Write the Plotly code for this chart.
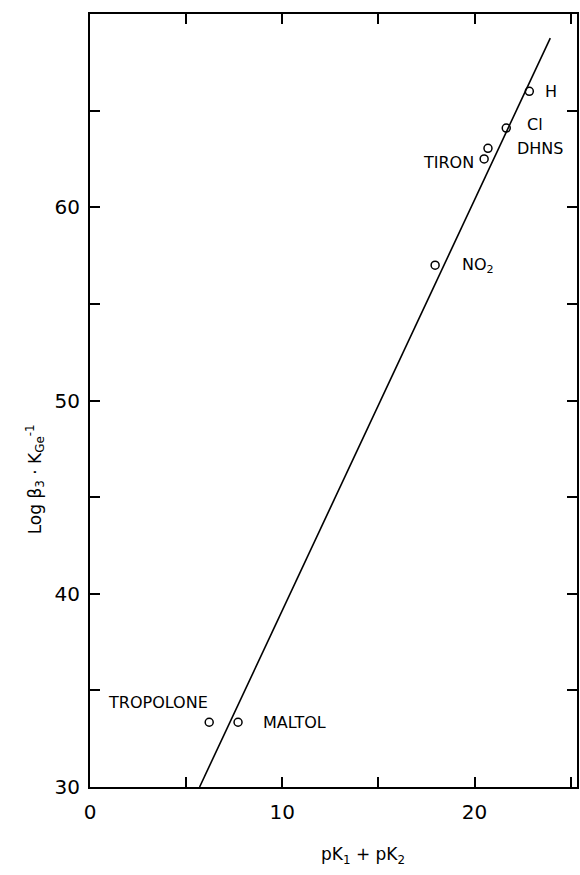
import plotly.graph_objects as go

# data
names = ["H", "Cl", "DHNS", "TIRON", "NO<sub>2</sub>", "TROPOLONE", "MALTOL"]
pk_sum = [22.85, 21.65, 20.7, 20.5, 17.95, 6.2, 7.7]
log_b = [66.0, 64.1, 63.05, 62.5, 57.0, 33.35, 33.35]
fit_x = [5.7, 23.94]
fit_y = [30.0, 68.75]

x_ticks = [0, 10, 20]
x_labels = ["0", "10", "20"]
y_ticks = [30, 40, 50, 60]
y_labels = ["30", "40", "50", "60"]
minor_step = 5

# label placement (pixel offsets from each point)
offs = {
    "H": (22, 0, "center"),
    "Cl": (29, 4, "center"),
    "DHNS": (52, 0, "center"),
    "TIRON": (-36, -4, "center"),
    "NO<sub>2</sub>": (25, 0, "left"),
    "TROPOLONE": (-51, 20, "center"),
    "MALTOL": (23, 0, "left"),
}

FONT = "DejaVu Sans"

fig = go.Figure()
fig.add_trace(go.Scatter(x=fit_x, y=fit_y, mode="lines",
                         line=dict(color="black", width=1.6), showlegend=False))
fig.add_trace(go.Scatter(x=pk_sum, y=log_b, mode="markers",
                         marker=dict(symbol="circle-open", size=8, color="black",
                                     line=dict(width=1.5, color="black")),
                         showlegend=False))

for n, xv, yv in zip(names, pk_sum, log_b):
    dx, dy, anc = offs[n]
    fig.add_annotation(x=xv, y=yv, xref="x", yref="y", text=n, showarrow=False,
                       xshift=dx, yshift=dy, xanchor=anc, yanchor="middle",
                       font=dict(family=FONT, size=16, color="black"))

fig.add_annotation(x=0.56, y=-0.088, xref="paper", yref="paper",
                   text="pK<sub>1</sub> + pK<sub>2</sub>", showarrow=False,
                   xanchor="center", yanchor="middle",
                   font=dict(family=FONT, size=17, color="black"))
fig.add_annotation(x=-0.113, y=0.398, xref="paper", yref="paper",
                   text="Log β<sub>3</sub> · K<sub>Ge</sub><sup>-1</sup>", showarrow=False,
                   textangle=-90, xanchor="center", yanchor="middle",
                   font=dict(family=FONT, size=17, color="black"))

axis_common = dict(showgrid=False, zeroline=False, showline=True, linecolor="black",
                   linewidth=2, ticks="inside", ticklen=10, tickwidth=1.5,
                   tickcolor="black", mirror="ticks",
                   minor=dict(ticks="inside", ticklen=10, tickwidth=1.5, tickcolor="black",
                              dtick=minor_step, showgrid=False),
                   tickfont=dict(family=FONT, size=20, color="black"))

fig.update_xaxes(range=[0, 25.33], tickvals=x_ticks, ticktext=x_labels, ticklabelstandoff=6,
                 **axis_common)
fig.update_yaxes(range=[30, 70], tickvals=y_ticks, ticktext=y_labels, ticklabelstandoff=4,
                 **axis_common)

fig.update_layout(width=580, height=875, margin=dict(l=90, r=1, t=14, b=88),
                  plot_bgcolor="white", paper_bgcolor="white")

# remove the default 8px page margin so the figure fills the window exactly
fig.write_html("out.html", config={"displayModeBar": False},
               post_script="document.body.style.margin='0';document.body.style.overflow='hidden';")
